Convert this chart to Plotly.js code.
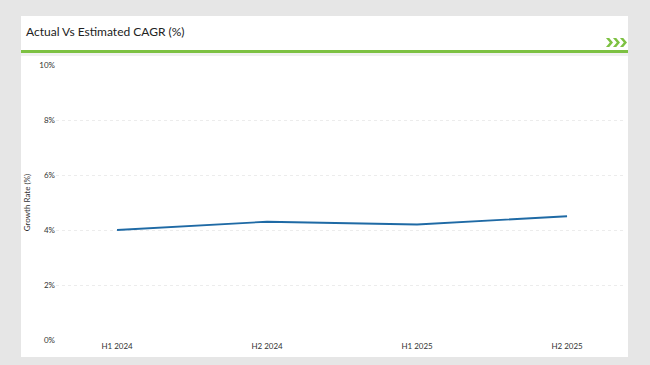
<!DOCTYPE html>
<html>
<head>
<meta charset="utf-8">
<script src="https://cdn.plot.ly/plotly-3.0.1.min.js"></script>
<style>
html,body{margin:0;padding:0;background:#e6e6e6;}
#chart{width:650px;height:365px;}
</style>
</head>
<body>
<div id="chart"></div>
<script>
const categories = ["H1 2024", "H2 2024", "H1 2025", "H2 2025"];
const growthRate = [4.0, 4.3, 4.2, 4.5];
const yTickValues = [0, 2, 4, 6, 8, 10];
const yTickLabels = ["0%", "2%", "4%", "6%", "8%", "10%"];

const W = 650, H = 365;
const M = {l: 56, r: 24, t: 65, b: 25};
const PW = W - M.l - M.r, PH = H - M.t - M.b;
const px = v => (v - M.l) / PW, py = v => (H - M.b - v) / PH;

function chevron(x, yTop, w, h, t) {
  const pts = [[x, yTop], [x + t, yTop], [x + w, yTop + h / 2], [x + t, yTop + h], [x, yTop + h], [x + w - t, yTop + h / 2]];
  return "M" + pts.map(p => px(p[0]).toFixed(5) + "," + py(p[1]).toFixed(5)).join(" L") + " Z";
}

const trace = {
  x: categories,
  y: growthRate,
  type: "scatter",
  mode: "lines",
  line: {color: "#1f6aa5", width: 1.8},
  hoverinfo: "x+y"
};

const shapes = [
  {type: "rect", xref: "paper", yref: "paper", layer: "below",
   x0: px(21), x1: px(628), y0: py(357), y1: py(16),
   fillcolor: "#ffffff", line: {width: 0}},
  {type: "rect", xref: "paper", yref: "paper", layer: "below",
   x0: px(21), x1: px(628), y0: py(56), y1: py(53),
   fillcolor: "#f0f0f0", line: {width: 0}},
  {type: "line", xref: "paper", yref: "paper",
   x0: px(21), x1: px(628), y0: py(51.5), y1: py(51.5),
   line: {color: "#7dc142", width: 3}}
];
[606, 613, 620].forEach(x => shapes.push({
  type: "path", xref: "paper", yref: "paper",
  path: chevron(x, 38, 7, 9, 3.2),
  fillcolor: "#7dc142", line: {width: 0}
}));

const layout = {
  width: W, height: H,
  paper_bgcolor: "#e6e6e6",
  plot_bgcolor: "rgba(0,0,0,0)",
  margin: M,
  showlegend: false,
  font: {family: "Lato, Open Sans, sans-serif", color: "#444"},
  xaxis: {
    type: "category",
    range: [-0.407, 3.393],
    showgrid: false,
    zeroline: false,
    showline: false,
    ticks: "",
    tickfont: {size: 8, color: "#333"}
  },
  yaxis: {
    range: [0, 10],
    tickvals: yTickValues,
    ticktext: yTickLabels,
    tickfont: {size: 8, color: "#333"},
    showgrid: true,
    gridcolor: "#ececec",
    griddash: "dot",
    gridwidth: 1,
    zeroline: false,
    showline: false,
    ticks: "",
    title: {text: "Growth Rate (%)", font: {size: 8, color: "#333"}, standoff: 7}
  },
  shapes: shapes,
  annotations: [
    {xref: "paper", yref: "paper", x: px(24), y: py(32), xanchor: "left", yanchor: "middle",
     text: "Actual Vs Estimated CAGR (%)", showarrow: false,
     font: {size: 12, color: "#222", family: "Lato, Open Sans, sans-serif"}}
  ]
};

Plotly.newPlot("chart", [trace], layout, {displayModeBar: false, staticPlot: true});
</script>
</body>
</html>
